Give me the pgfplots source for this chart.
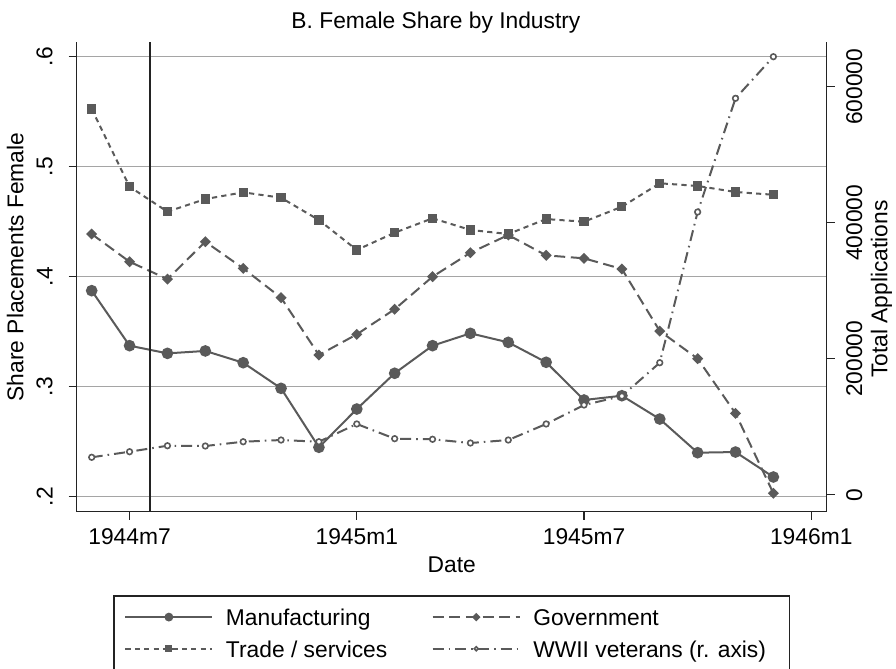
\documentclass[border=0pt]{standalone}
\usepackage{fontspec}
\setmainfont{Liberation Sans}
\usepackage{pgfplots}
\pgfplotsset{compat=1.18}
\usepackage{pgfplotstable}
\definecolor{sg}{RGB}{90,90,90}
\definecolor{axc}{RGB}{35,35,35}
\definecolor{gridc}{RGB}{165,165,165}

\pgfplotstableread{
x manuf govt trade vets
0 0.3873 0.4388 0.5525 55000
1 0.3373 0.4136 0.4818 63200
2 0.3303 0.3978 0.4591 72000
3 0.3325 0.4318 0.4706 71600
4 0.3218 0.4076 0.4767 77900
5 0.2985 0.3809 0.4718 80400
6 0.2449 0.3288 0.4515 77900
7 0.2797 0.3476 0.4243 104000
8 0.3122 0.3704 0.4400 82400
9 0.3373 0.4000 0.4531 81500
10 0.3485 0.4218 0.4425 76000
11 0.3403 0.4379 0.4388 80400
12 0.3222 0.4194 0.4524 104000
13 0.2879 0.4167 0.4500 131900
14 0.2918 0.4070 0.4636 145000
15 0.2706 0.3506 0.4849 194100
16 0.2400 0.3255 0.4825 415700
17 0.2406 0.2758 0.4770 582900
18 0.2179 0.2031 0.4745 644100
}\datatable

\pgfplotsset{
  common/.style={
    scale only axis, width=375pt, height=235pt,
    xmin=-0.396, xmax=19.408,
    axis line style={-, draw=axc, line width=0.75pt},
    tick style={draw=axc, line width=0.6pt},
    tick align=outside, major tick length=4pt,
  },
  manufst/.style={color=sg, solid, line width=1pt, mark=*, mark size=2.4pt, mark options={solid, fill=sg, draw=sg}},
  govtst/.style={color=sg, line width=1pt, dash pattern=on 5.5pt off 2.8pt, mark=square*, mark size=1.45pt, mark options={solid, rotate=45, fill=sg, draw=sg}},
  tradest/.style={color=sg, line width=1pt, dash pattern=on 2.6pt off 2.1pt, mark=square*, mark size=1.8pt, mark options={solid, fill=sg, draw=sg}},
  vetst/.style={color=sg, line width=1pt, dash pattern=on 5.5pt off 2.5pt on 0.8pt off 2.5pt, mark=*, mark size=1.4pt, mark options={solid, fill=white, draw=sg, line width=0.8pt}},
}

\begin{document}
\begin{tikzpicture}[font=\fontsize{11.4}{13.7}\selectfont]
\useasboundingbox (-38.35pt,-78.65pt) rectangle (409.65pt,255.85pt);
\begin{axis}[
  common,
  ymin=0.18636, ymax=0.61364,
  axis x line*=bottom, axis y line*=left,
  xtick={1,7,13,19}, xticklabels={1944m7,1945m1,1945m7,1946m1},
  xticklabel style={anchor=north, inner sep=0pt}, xticklabel shift=4pt,
  ytick={0.2,0.3,0.4,0.5,0.6}, yticklabels={.2,.3,.4,.5,.6},
  yticklabel style={rotate=90, anchor=south, inner sep=0pt}, yticklabel shift=7.8pt,
  ymajorgrids, major grid style={draw=gridc, line width=0.6pt},
  title={B. Female Share by Industry},
  every axis title/.style={at={(axis description cs:0.479,1.0285)}, anchor=base, inner sep=0pt},
  xlabel={Date},
  xlabel style={at={(axis description cs:0.5,-0.1289)}, anchor=base, inner sep=0pt},
  ylabel={Share Placements Female},
  ylabel style={at={(axis description cs:-0.0712,0.5206)}, anchor=base, rotate=0, inner sep=0pt},
  legend columns=2,
  legend cell align=left,
  legend image code/.code={
    \draw[#1, mark=none] (0pt,0pt) -- (43.5pt,0pt);
    \draw[#1, every mark/.append style={scale=0.7}] plot coordinates {(21.75pt,0pt)};
  },
  legend style={
    at={(0.5,0)}, anchor=north, yshift=-41.9pt,
    draw=axc, line width=0.6pt, fill=white,
    inner xsep=5.15pt, inner ysep=6.4pt,
    row sep=7.65pt,
    nodes={inner sep=0pt, text height=8.2pt, text depth=0pt},
    /tikz/every odd column/.append style={column sep=6.3pt},
    /tikz/column 2/.append style={column sep=22.2pt},
  },
]
\addplot[manufst] table[x=x, y=manuf] {\datatable};
\addlegendentry{Manufacturing}
\addplot[govtst] table[x=x, y=govt] {\datatable};
\addlegendentry{Government}
\addplot[tradest] table[x=x, y=trade] {\datatable};
\addlegendentry{Trade / services}
\addlegendimage{vetst}
\addlegendentry{WWII veterans (r. axis)\hspace*{6.5pt}}
\addplot[forget plot, draw=axc, line width=0.75pt, mark=none] coordinates {(1.54,0.18636) (1.54,0.61364)};
\end{axis}
\begin{axis}[
  common,
  ymin=-25000, ymax=666176,
  axis x line=none, axis y line*=right,
  scaled y ticks=false,
  ytick={0,200000,400000,600000}, yticklabels={0,200000,400000,600000},
  yticklabel style={rotate=90, anchor=north, inner sep=0pt}, yticklabel shift=5.5pt,
  ylabel={Total Applications},
  ylabel style={at={(axis description cs:1.0808,0.4738)}, anchor=base, rotate=0, inner sep=0pt},
]
\addplot[vetst] table[x=x, y=vets] {\datatable};
\end{axis}
\end{tikzpicture}
\end{document}
